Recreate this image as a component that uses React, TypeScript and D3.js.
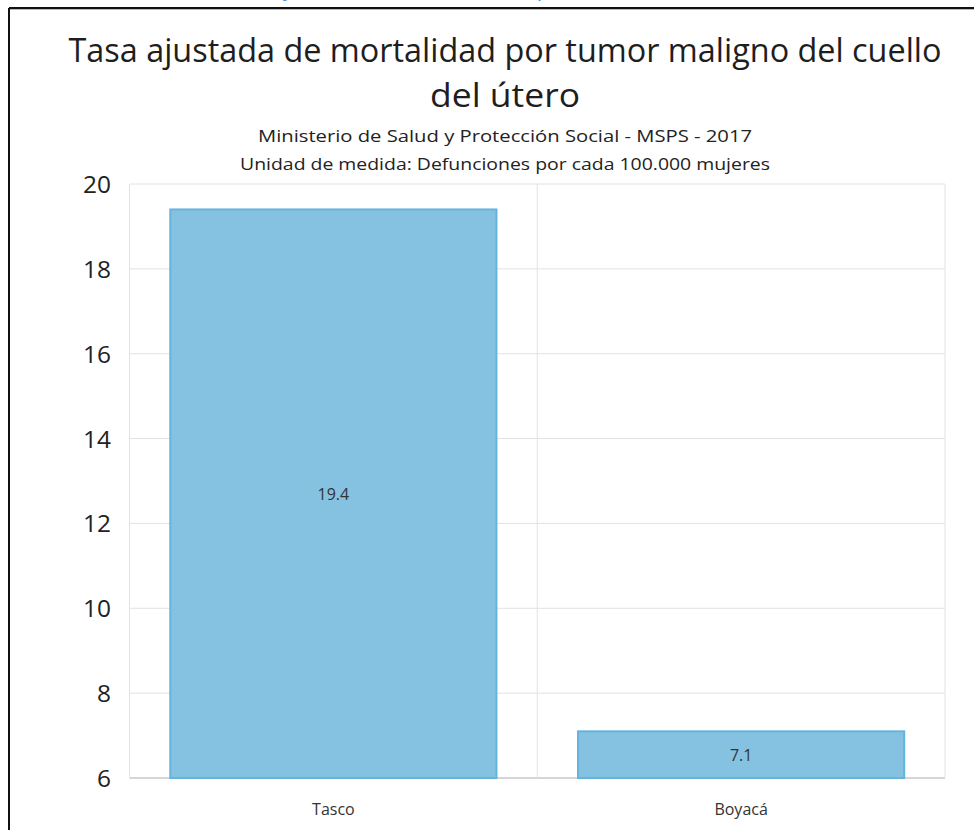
import React from "react";
import * as d3 from "d3";

const categories: string[] = ["Tasco", "Boyacá"];
const values: number[] = [19.4, 7.1];
const yTicks: number[] = [6, 8, 10, 12, 14, 16, 18, 20];
const titleLines: string[] = ["Tasa ajustada de mortalidad por tumor maligno del cuello", "del útero"];
const subtitleLines: string[] = [
  "Ministerio de Salud y Protección Social - MSPS - 2017",
  "Unidad de medida: Defunciones por cada 100.000 mujeres",
];

const W = 974;
const H = 830;
const FONT = "'Open Sans', 'Noto Sans', sans-serif";

export default function App() {
  const plotLeft = 129.5;
  const plotRight = 945;
  const plotTop = 184;
  const plotBottom = 778;

  const x = d3.scaleBand<string>().domain(categories).range([plotLeft, plotRight]).paddingInner(0.2).paddingOuter(0.1);
  const y = d3.scaleLinear().domain([6, 20]).range([plotBottom, plotTop]);
  const step = x.step();
  const separators = [plotLeft, ...categories.map((c) => (x(c) as number) - (step * 0.1) + step)];
  const cx = 505;

  return (
    <svg width={W} height={H} style={{ position: "absolute", left: 0, top: 0, background: "#fff" }} fontFamily={FONT}>
      <rect x={0} y={0} width={W} height={H} fill="#fff" />
      {/* cut-off heading fragments above the frame */}
      <text x={283} y={-4} fontSize={20} fill="#4a86d0">y</text>
      <text x={537} y={-4} fontSize={20} fill="#4a86d0">p</text>
      {/* frame */}
      <line x1={9} x2={W} y1={8} y2={8} stroke="#111" strokeWidth={2} />
      <line x1={9} x2={W} y1={9.5} y2={9.5} stroke="#bbb" strokeWidth={1} />
      <line x1={9} x2={9} y1={8} y2={H} stroke="#111" strokeWidth={2} />

      {/* titles */}
      <text x={cx} y={62} textAnchor="middle" fontSize={33} fill="#1e1e1e" textLength={873} lengthAdjust="spacingAndGlyphs">{titleLines[0]}</text>
      <text x={cx} y={107} textAnchor="middle" fontSize={33} fill="#1e1e1e" textLength={150} lengthAdjust="spacingAndGlyphs">{titleLines[1]}</text>
      <text x={cx} y={142} textAnchor="middle" fontSize={16} fill="#222" textLength={494} lengthAdjust="spacingAndGlyphs">{subtitleLines[0]}</text>
      <text x={cx} y={170} textAnchor="middle" fontSize={16} fill="#222" textLength={530} lengthAdjust="spacingAndGlyphs">{subtitleLines[1]}</text>

      {/* grid */}
      {yTicks.map((t) => (
        <line key={"g" + t} x1={plotLeft} x2={plotRight} y1={y(t)} y2={y(t)} stroke={t === 6 ? "#d6d6d6" : "#e2e2e2"} strokeWidth={t === 6 ? 2 : 1} />
      ))}
      {separators.map((sx, i) => (
        <line key={"v" + i} x1={sx} x2={sx} y1={plotTop} y2={plotBottom} stroke="#e2e2e2" strokeWidth={1} />
      ))}

      {/* y tick labels */}
      {yTicks.map((t) => (
        <text key={"t" + t} x={111} y={y(t) + 9} textAnchor="end" fontSize={24} fill="#222" textLength={t >= 10 ? 28 : 14} lengthAdjust="spacingAndGlyphs">{t}</text>
      ))}

      {/* bars */}
      {categories.map((c, i) => (
        <g key={c}>
          <rect x={x(c)} y={y(values[i])} width={x.bandwidth()} height={plotBottom - y(values[i])} fill="#85c2e2" stroke="#64b4de" strokeWidth={2} />
          <text x={(x(c) as number) + x.bandwidth() / 2} y={(y(values[i]) + plotBottom) / 2 + 6} textAnchor="middle" fontSize={16} fill="#333">{values[i].toFixed(1)}</text>
          <text x={(x(c) as number) + x.bandwidth() / 2} y={815} textAnchor="middle" fontSize={16} fill="#333">{c}</text>
        </g>
      ))}
    </svg>
  );
}
